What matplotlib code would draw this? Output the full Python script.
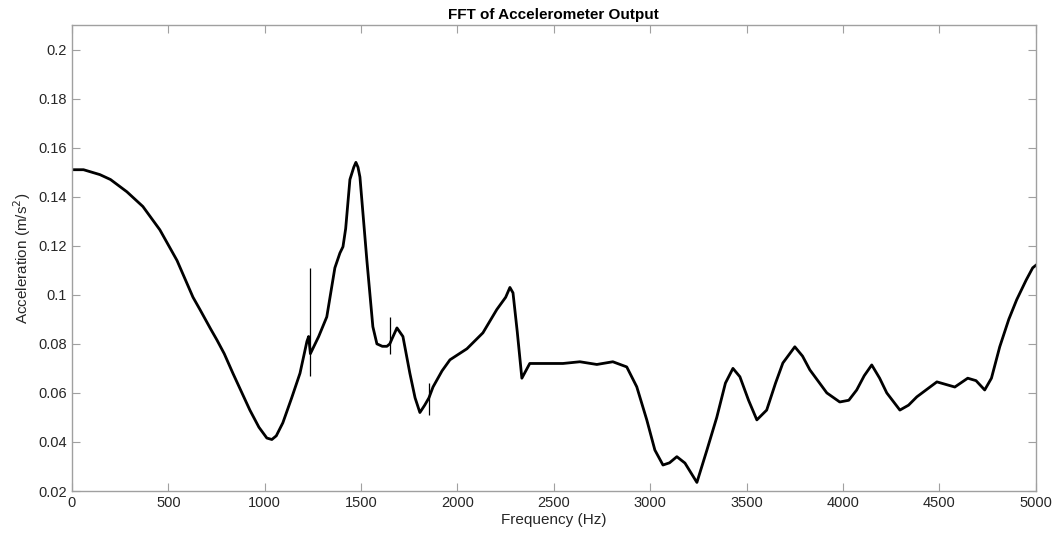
import matplotlib
matplotlib.use('Agg')
import matplotlib.pyplot as plt

# points (Hz, m/s^2)
freq = [0, 60, 145, 200, 285, 368, 456, 545, 628, 664, 720, 752, 790, 835, 923, 970, 1011,
        1037, 1060, 1094, 1140, 1183, 1219, 1228, 1237, 1280, 1322, 1364,
        1390, 1406, 1420, 1442, 1462, 1473, 1484, 1494, 1530, 1561, 1582, 1610, 1634,
        1649, 1660, 1686, 1717, 1753, 1780, 1805, 1830, 1852, 1873, 1920,
        1961, 2049, 2132, 2204, 2250, 2272, 2288, 2310, 2334, 2375, 2460, 2547, 2635, 2723,
        2806, 2878, 2930, 2982, 3024, 3066, 3100, 3138, 3180, 3242, 3294, 3345, 3390, 3429,
        3465, 3510, 3553, 3604, 3650, 3688, 3750, 3790, 3828, 3916, 3983, 4030, 4071, 4110,
        4149, 4190, 4227, 4295, 4340, 4383, 4487, 4580, 4647, 4690, 4735, 4770, 4813, 4860,
        4901, 4950, 4984, 5000]
accel = [0.151, 0.151, 0.149, 0.147, 0.142, 0.136, 0.1265, 0.114, 0.099, 0.094, 0.086, 0.0816,
         0.076, 0.068, 0.053, 0.046, 0.0416, 0.041, 0.0425, 0.0478, 0.058, 0.068, 0.081, 0.083,
         0.076, 0.083, 0.091, 0.111, 0.117, 0.1196, 0.127, 0.147, 0.152,
         0.154, 0.152, 0.148, 0.114, 0.087, 0.080, 0.079, 0.079, 0.080, 0.082,
         0.0865, 0.083, 0.068, 0.058, 0.052, 0.055, 0.058, 0.0624, 0.069, 0.0735,
         0.078, 0.0845, 0.094, 0.099, 0.103, 0.1008, 0.085, 0.066, 0.072, 0.072, 0.072, 0.0727,
         0.0716, 0.0727, 0.0706, 0.0625, 0.049, 0.0367, 0.0306, 0.0315, 0.034, 0.0314, 0.0235,
         0.0367, 0.050, 0.064, 0.070, 0.0666, 0.057, 0.049, 0.053, 0.064, 0.0722, 0.0788, 0.075,
         0.0694, 0.060, 0.0563, 0.057, 0.0612, 0.067, 0.0714, 0.066, 0.060, 0.053, 0.055, 0.0584,
         0.0645, 0.0624, 0.066, 0.065, 0.0612, 0.066, 0.0788, 0.090, 0.098, 0.106, 0.111, 0.112]

# narrow spikes (frequency, low, high)
spike_freq = [1237, 1649, 1852]
spike_lo = [0.067, 0.076, 0.051]
spike_hi = [0.111, 0.091, 0.064]

plt.rcParams['font.family'] = ['Liberation Sans', 'DejaVu Sans']

fig = plt.figure(figsize=(10.58, 5.46), dpi=100)
ax = fig.add_axes([0.068, 0.1007, 0.911, 0.8535])

ax.plot(freq, accel, color='black', linewidth=2.0, solid_joinstyle='round')
ax.vlines(spike_freq, spike_lo, spike_hi, color='black', linewidth=0.9)

ax.set_xlim(0, 5000)
ax.set_ylim(0.02, 0.21)
ax.set_xticks(range(0, 5001, 500))
ax.set_yticks([0.02, 0.04, 0.06, 0.08, 0.1, 0.12, 0.14, 0.16, 0.18, 0.2])
ax.set_yticklabels(['0.02', '0.04', '0.06', '0.08', '0.1', '0.12', '0.14', '0.16', '0.18', '0.2'])

ax.tick_params(direction='in', top=True, right=True, length=6, width=0.8,
               color='#a0a0a0', labelcolor='#262626', labelsize=10.5)
for s in ax.spines.values():
    s.set_color('#a0a0a0')
    s.set_linewidth(1.0)

ax.set_xlabel('Frequency (Hz)', fontsize=11, color='#262626', labelpad=2)
ax.set_ylabel('Acceleration (m/s$^2$)', fontsize=11, color='#262626', labelpad=4)
ax.set_title('FFT of Accelerometer Output', fontsize=11, fontweight='bold', pad=4)

fig.savefig('out.png', dpi=100)
